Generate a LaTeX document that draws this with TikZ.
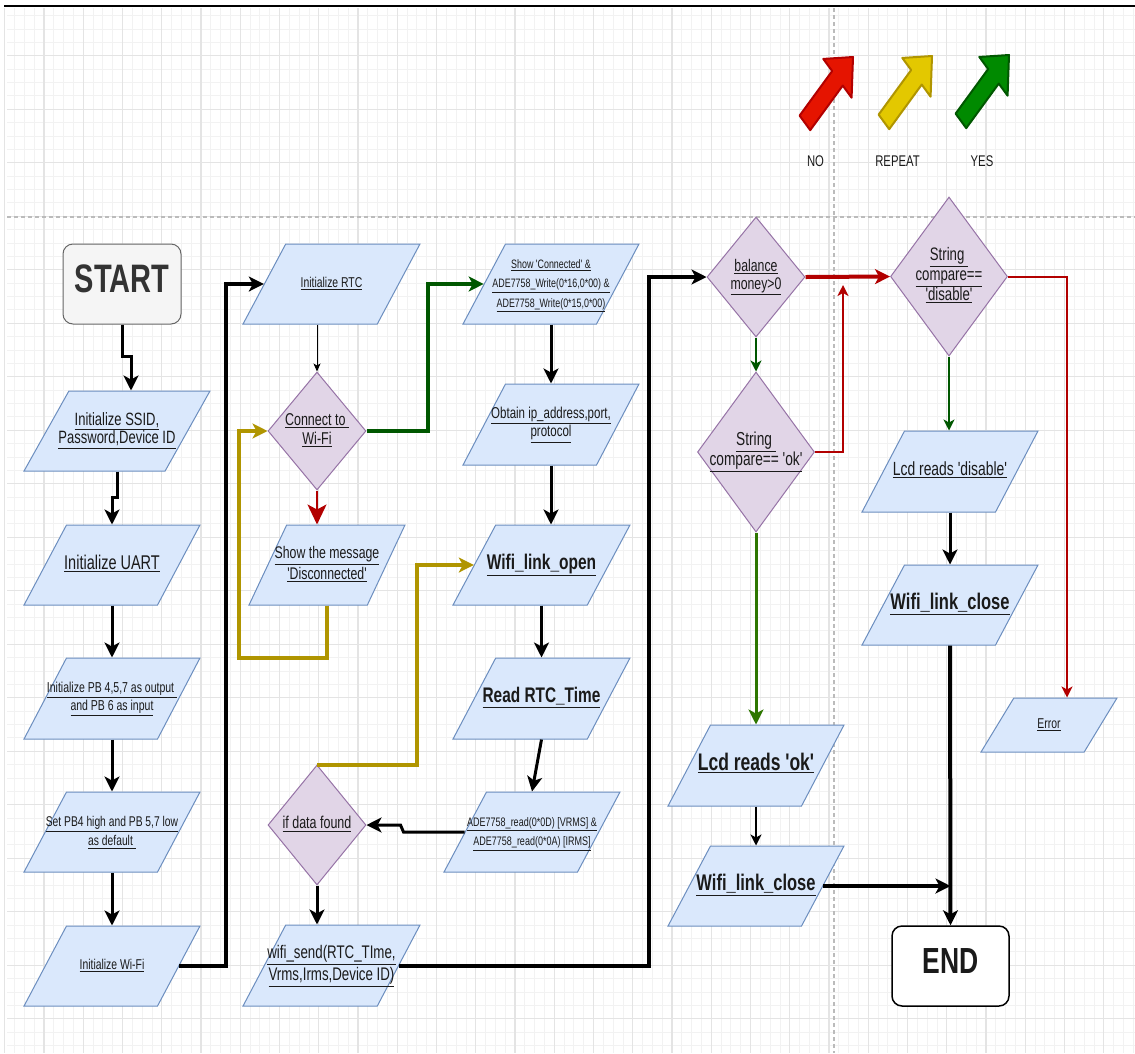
\documentclass[tikz,border=0pt]{standalone}
\usepackage{fontspec}
\setmainfont{Liberation Sans}
\usepackage{graphicx}
\usetikzlibrary{shapes.geometric,arrows.meta}

\definecolor{paraFill}{HTML}{DAE8FC}
\definecolor{paraDraw}{HTML}{6C8EBF}
\definecolor{diaFill}{HTML}{E1D5E7}
\definecolor{diaDraw}{HTML}{9673A6}
\definecolor{startFill}{HTML}{F5F5F5}
\definecolor{startDraw}{HTML}{666666}
\definecolor{txtcol}{HTML}{1A1A1A}
\definecolor{noLine}{HTML}{B20000}
\definecolor{repLine}{HTML}{B09500}
\definecolor{yesLine}{HTML}{005700}
\definecolor{yesLineB}{HTML}{2D7600}
\definecolor{noFill}{HTML}{E51400}
\definecolor{repFill}{HTML}{E3C800}
\definecolor{yesFill}{HTML}{008A00}
\definecolor{gridMinor}{HTML}{F2F2F2}
\definecolor{gridMajor}{HTML}{E4E4E4}
\definecolor{guideCol}{HTML}{BBBBBB}

% text block: font size, baseline skip, lines; glyphs are drawn taller than wide
\newcommand{\vs}[3]{\scalebox{1}[1.37]{\fontsize{#1pt}{#2pt}\selectfont\begin{tabular}{@{}c@{}}#3\end{tabular}}}
\newcommand{\undl}[1]{\underline{#1}}
\newcommand{\sq}{\textquotesingle}

% block arrow of the legend, tip at (x,y)
\newcommand{\legendarrow}[4]{%
  \begin{scope}[shift={(#1pt,-#2pt)}, yscale=1.37, rotate=45]
    \filldraw[fill=#3, draw=#4, line width=2pt, line join=round]
      (0pt,0pt) -- (-22pt,20pt) -- (-22pt,7.5pt) -- (-68pt,7.5pt)
      -- (-68pt,-7.5pt) -- (-22pt,-7.5pt) -- (-22pt,-20pt) -- cycle;
  \end{scope}}

\tikzset{
  para/.style 2 args={trapezium, trapezium left angle=65, trapezium right angle=115,
    trapezium stretches=true, minimum width=#1pt, minimum height=#2pt, inner sep=2pt,
    fill=paraFill, draw=paraDraw, line width=1pt},
  dia/.style 2 args={diamond, minimum width=#1pt, minimum height=#2pt, inner sep=2pt,
    fill=diaFill, draw=diaDraw, line width=1pt},
  term/.style={rectangle, rounded corners=10pt, inner sep=2pt},
  say/.style={label={[text=txtcol, inner sep=0pt, align=center]center:#1}},
  ahBig/.style={-{Stealth[length=15pt,width=15pt,inset=4pt]}},
  ahMid/.style={-{Stealth[length=11pt,width=11pt,inset=3pt]}},
  ahThin/.style={-{Stealth[length=8pt,width=7pt,inset=2pt]}},
  flow/.style={line width=3pt, ahBig},
  bigflow/.style={line width=4pt, ahBig},
  thinflow/.style={line width=1pt, ahThin},
  midflow/.style={line width=2pt, ahMid},
  gridminor/.style={draw=gridMinor, line width=0.8pt},
  gridmajor/.style={draw=gridMajor, line width=1.2pt},
  guide/.style={draw=guideCol, line width=1.2pt, dash pattern=on 4pt off 3pt},
}

\begin{document}
\begin{tikzpicture}[x=1pt,y=-1pt]
\useasboundingbox (0,0) rectangle (1135,1053);
\fill[white] (0,0) rectangle (1135,1053);

% background grid
\foreach \i in {0,...,116} {\pgfmathsetmacro\gx{4.75+9.8125*\i}
  \draw[gridminor] (\gx,8) -- (\gx,1053);}
\foreach \j in {1,...,78} {\pgfmathsetmacro\gy{2.2+13.375*\j}
  \draw[gridminor] (7,\gy) -- (1135,\gy);}
\foreach \i in {0,...,29} {\pgfmathsetmacro\gx{4.75+39.25*\i}
  \draw[gridmajor] (\gx,8) -- (\gx,1053);}
\foreach \j in {1,...,19} {\pgfmathsetmacro\gy{2.2+53.5*\j}
  \draw[gridmajor] (7,\gy) -- (1135,\gy);}

% page guides and top rule
\draw[guide] (7,217) -- (1135,217);
\draw[guide] (834,8) -- (834,1053);
\draw[line width=2pt] (4,6) -- (1135,6);

% legend
\legendarrow{853}{57}{noFill}{noLine}
\legendarrow{932}{56}{repFill}{repLine}
\legendarrow{1009}{55}{yesFill}{yesLine}
\node[text=txtcol] (lgno) at (815.5,163) {\vs{11.3}{12}{NO}};
\node[text=txtcol] (lgrep) at (897.5,163) {\vs{11.3}{12}{REPEAT}};
\node[text=txtcol] (lgyes) at (982,163) {\vs{11.3}{12}{YES}};

% terminals
\node[term, fill=startFill, draw=startDraw, line width=1pt, minimum width=118pt, minimum height=80pt,
  say={\color[HTML]{333333}\vs{29}{30}{\bfseries START}}] (start) at (122,284) {};
\node[term, fill=white, draw=black, line width=1.5pt, minimum width=117pt, minimum height=80pt,
  say={\vs{26.5}{28}{\bfseries END}}] (end) at (950.5,966) {};

% first column
\node[para={186}{80}, say={\vs{13}{13.5}{\undl{Initialize SSID,}\\\undl{Password,Device ID}}}] (ssid) at (117,431) {};
\node[para={176}{80}, say={\vs{14.5}{15}{\undl{Initialize UART}}}] (uart) at (112,565) {};
\node[para={176}{81}, say={\vs{10.5}{12.8}{\undl{Initialize PB 4,5,7 as output\ }\\\undl{and PB 6 as input}}}] (pb) at (112,698.5) {};
\node[para={176}{80}, say={\vs{10.3}{14.5}{\undl{Set PB4 high and PB 5,7 low}\\\undl{as default\ }}}] (setpb) at (112,832) {};
\node[para={176}{80}, say={\vs{10.4}{12}{\undl{Initialize Wi-Fi}}}] (initwifi) at (112,966) {};

% second column
\node[para={177}{80}, say={\vs{10.4}{12}{\undl{Initialize RTC}}}] (rtc) at (331.5,284) {};
\node[dia={98}{118}, say={\vs{12.5}{14}{\undl{Connect to\ }\\\undl{Wi-Fi}}}] (cwifi) at (317,431) {};
\node[para={156}{80}, say={\vs{12.3}{14.5}{\undl{Show the message}\\\undl{\sq Disconnected\sq}}}] (disc) at (327,565) {};
\node[dia={98}{120}, say={\vs{12.5}{14}{\undl{if data found}}}] (found) at (317,825) {};
\node[para={177}{81}, say={\vs{13.3}{16}{\undl{wifi\_send(RTC\_TIme,}\\\undl{Vrms,Irms,Device ID)}}}] (wsend) at (331.5,965.5) {};

% third column
\node[para={176}{80}, say={\vs{8.9}{14}{\undl{Show \sq Connected\sq\ \&}\\\undl{ADE7758\_Write(0*16,0*00) \&}\\\undl{ADE7758\_Write(0*15,0*00)}}}] (conn) at (551,284) {};
\node[para={176}{81}, say={\vs{11.5}{13}{\undl{Obtain ip\_address,port,}\\\undl{protocol}}}] (obtain) at (551,424.5) {};
\node[para={177}{80}, say={\vs{15.5}{16}{\bfseries\undl{Wifi\_link\_open}}}] (linkopen) at (541.5,565) {};
\node[para={177}{81}, say={\vs{15.4}{16}{\bfseries\undl{Read RTC\_Time}}}] (readrtc) at (541.5,698.5) {};
\node[para={176}{80}, say={\vs{9}{14}{\undl{ADE7758\_read(0*0D) [VRMS] \&}\\\undl{ADE7758\_read(0*0A) [IRMS]}}}] (aderead) at (532,832) {};

% fourth column
\node[dia={98}{120}, say={\vs{12.3}{13}{\undl{balance}\\\undl{money>0}}}] (bal) at (756,277) {};
\node[dia={117}{160}, say={\vs{13.7}{14}{\undl{String\ }\\\undl{compare== \sq ok\sq}}}] (okq) at (756,452) {};
\node[para={176}{81}, say={\vs{17.5}{18}{\bfseries\undl{Lcd reads \sq ok\sq}}}] (lcdok) at (756,765.5) {};
\node[para={176}{80}, say={\vs{16.5}{17}{\bfseries\undl{Wifi\_link\_close}}}] (closeL) at (756,886) {};

% fifth column
\node[dia={117}{159}, say={\vs{13.2}{14.2}{\undl{String\ }\\\undl{compare==}\\\undl{\sq disable\sq}}}] (disq) at (949,276.5) {};
\node[para={176}{81}, say={\vs{13.9}{15}{\undl{Lcd reads \sq disable\sq}}}] (lcddis) at (950,471.5) {};
\node[para={176}{80}, say={\vs{16.5}{17}{\bfseries\undl{Wifi\_link\_close}}}] (closeR) at (950,605) {};
\node[para={136}{54}, say={\vs{10.4}{12}{\undl{Error}}}] (error) at (1049,725) {};

% junction points
\coordinate (j1) at (131,356);
\coordinate (j2) at (112,497);
\coordinate (redjoin) at (843,285);

% first column flow
\draw[flow] (start.south) |- (j1) -- (j1 |- ssid.north);
\draw[flow] (ssid.south) |- (j2) -- (j2 |- uart.north);
\draw[flow] (uart.south) -- (pb.north);
\draw[flow] (pb.south) -- (setpb.north);
\draw[flow] (setpb.south) -- (initwifi.north);
\draw[bigflow] (initwifi.east) -| ([xshift=-38pt]rtc.west) -- (rtc.west);

% second column flow
\draw[thinflow] (rtc.south -| cwifi.north) -- (cwifi.north);
\draw[noLine, line width=2pt, -{Stealth[length=20pt,width=19pt,inset=5pt]}] (cwifi.south) -- (cwifi.south |- disc.north);
\draw[yesLine, bigflow] (cwifi.east) -| ([xshift=-56pt]conn.west) -- (conn.west);
\draw[repLine, bigflow] (disc.south) -- ++(0,52) -| ([xshift=-29pt]cwifi.west) -- (cwifi.west);
\draw[flow] (found.south) -- (found.south |- wsend.north);
\draw[repLine, bigflow] (found.north) -| ([xshift=-57pt]linkopen.west) -- (linkopen.west);
\draw[bigflow] (wsend.east) -| ([xshift=-58pt]bal.west) -- (bal.west);

% third column flow
\draw[flow] (conn.south) -- (obtain.north);
\draw[flow] (obtain.south) -- (obtain.south |- linkopen.north);
\draw[flow] (linkopen.south) -- (readrtc.north);
\draw[flow] (readrtc.south) -- (aderead.north);
\draw[flow] (aderead.west) -- ([xshift=37pt]found.east |- aderead.west) -- ([xshift=34pt]found.east) -- (found.east);

% decisions on the right
\draw[yesLine, midflow] (bal.south) -- (okq.north);
\draw[noLine, bigflow] (bal.east) -- (disq.west);
\draw[noLine, line width=2.5pt, ahMid] (okq.east) -| (redjoin);
\draw[yesLineB, line width=3pt, ahBig] (okq.south) -- (lcdok.north);
\draw[midflow] (lcdok.south) -- (closeL.north);
\draw[bigflow] (closeL.east) -- (closeL.east -| end.north);
\draw[yesLine, midflow] (disq.south) -- (disq.south |- lcddis.north);
\draw[flow] (lcddis.south) -- (closeR.north);
\draw[bigflow] (closeR.south) -- (end.north);
\draw[noLine, midflow] (disq.east) -| ([xshift=18pt]error.north);
\end{tikzpicture}
\end{document}
